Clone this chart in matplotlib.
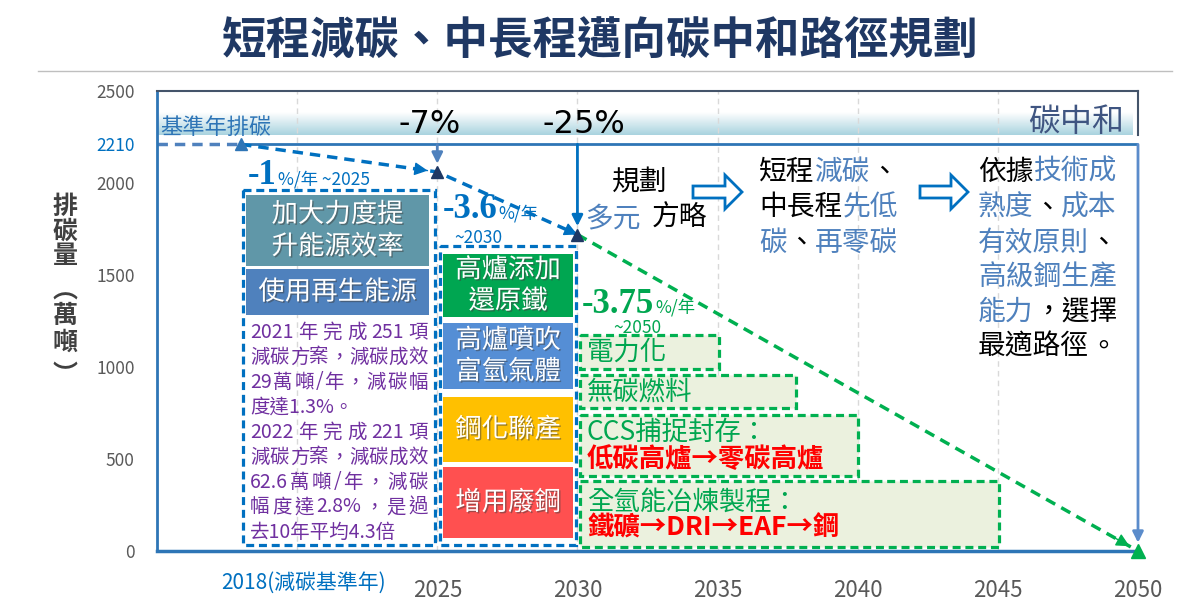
import numpy as np
import matplotlib.pyplot as plt
import matplotlib.patheffects as pe
from matplotlib.patches import Rectangle, Polygon
from matplotlib.colors import LinearSegmentedColormap

plt.rcParams['font.family'] = ['Noto Sans CJK TC', 'DejaVu Sans']

# 排碳路徑資料 (萬噸)
years = [2018, 2025, 2030, 2050]
emission = [2210, 2060, 1720, 0]
base = 2210
pct_labels = ['-7%', '-25%']
rate_labels = ['-1', '-3.6', '-3.75']
rate_until = ['~2025', '~2030', '~2050']

yticks = [0, 500, 1000, 1500, 2000, 2500]
xticks = [2025, 2030, 2035, 2040, 2045, 2050]
grid_years = [2020, 2025, 2030, 2035, 2040, 2045]

box1_items = ['加大力度提\n升能源效率', '使用再生能源']
box1_colors = ['#6097A8', '#4F81BD']
box2_items = ['高爐添加\n還原鐵', '高爐噴吹\n富氫氣體', '鋼化聯產', '增用廢鋼']
box2_colors = ['#00A651', '#558ED5', '#FFC000', '#FF5050']

purple_lines = [
    ['2021', '年', '完', '成', '251', '項'],
    list('減碳方案，減碳成效'),
    ['29', '萬', '噸', '/', '年', '，', '減', '碳', '幅'],
    ['度達1.3%。'],
    ['2022', '年', '完', '成', '221', '項'],
    list('減碳方案，減碳成效'),
    ['62.6', '萬', '噸', '/', '年', '，', '減', '碳'],
    ['幅', '度', '達', '2.8%', '，', '是', '過'],
    ['去10年平均4.3倍'],
]

BLUE = '#0070C0'
SBLUE = '#4F81BD'
GREEN = '#00B050'
TGREEN = '#00A650'

fig = plt.figure(figsize=(12, 6.13), dpi=100)

# ---- 主圖 ----
ax = fig.add_axes([157 / 1200, 62 / 613, 981 / 1200, 460 / 613], zorder=1)

# 橫幅漸層
cmap = LinearSegmentedColormap.from_list('band', ['#FFFFFF', '#A9D3DF'])
grad = np.linspace(0, 1, 60).reshape(-1, 1)
ax.imshow(grad, extent=[2015, 2049.8, 2262, 2385], aspect='auto', cmap=cmap, zorder=0)

ax.set_xlim(2015, 2050)
ax.set_ylim(0, 2500)

for g in grid_years:
    ax.axvline(g, color='#D9D9D9', lw=1, ls=(0, (4, 3)), zorder=0)

# 基準線
ax.plot([2015, years[0]], [base, base], ls=(0, (3, 2)), color=SBLUE, lw=2.5, zorder=2)
ax.plot([years[0], 2050], [base, base], color='#2E75B6', lw=2, zorder=2)

# 排碳路徑
ax.plot(years[:3], emission[:3], ls=(0, (3, 2)), color=BLUE, lw=2.5, zorder=3)
ax.plot(years[2:], emission[2:], ls=(0, (3, 2)), color=GREEN, lw=2.5, zorder=3)
for i, c in [(1, BLUE), (2, BLUE), (3, GREEN)]:
    x0, y0 = years[i - 1], emission[i - 1]
    x1, y1 = years[i], emission[i]
    ax.annotate('', xy=(x1, y1), xytext=(x1 - 0.05 * (x1 - x0), y1 - 0.05 * (y1 - y0)),
                arrowprops=dict(arrowstyle='-|>', color=c, lw=1, mutation_scale=20,
                                shrinkA=0, shrinkB=7),
                annotation_clip=False, zorder=4)

# 垂直箭頭
ax.annotate('', xy=(2025, emission[1]), xytext=(2025, base),
            arrowprops=dict(arrowstyle='-|>', color=SBLUE, lw=2, mutation_scale=16,
                            shrinkA=0, shrinkB=6), zorder=4)
ax.annotate('', xy=(2030, emission[2]), xytext=(2030, base),
            arrowprops=dict(arrowstyle='-|>', color=BLUE, lw=2, mutation_scale=16,
                            shrinkA=0, shrinkB=6), zorder=4)
ax.annotate('', xy=(2050, 0), xytext=(2050, base),
            arrowprops=dict(arrowstyle='-|>', color='#5B8CCB', lw=2, mutation_scale=16,
                            shrinkA=0, shrinkB=6), annotation_clip=False, zorder=4)

ax.plot(years[0], emission[0], '^', color='#2E75B6', ms=9, zorder=5)
ax.plot(years[1:3], emission[1:3], '^', color='#1F3864', ms=9, ls='none', zorder=5)
ax.plot(years[3], emission[3], '^', color=GREEN, ms=9.5, clip_on=False, zorder=5)

# 座標軸
for s in ['top', 'right']:
    ax.spines[s].set_color('#44546A')
    ax.spines[s].set_linewidth(1.5)
ax.spines['right'].set_bounds(2262, 2500)
ax.spines['left'].set_color('#2E75B6')
ax.spines['left'].set_linewidth(2)
ax.spines['bottom'].set_color('#2E75B6')
ax.spines['bottom'].set_linewidth(2.5)

ax.set_xticks(xticks)
ax.tick_params(axis='x', length=0, pad=20, labelsize=16, labelcolor='#595959')
ax.set_yticks(yticks + [base])
ax.tick_params(axis='y', length=0, pad=16, labelsize=12.5, labelcolor='#595959')
for lbl in ax.get_yticklabels():
    if lbl.get_text() == str(base):
        lbl.set_color(BLUE)

# ---- 覆蓋層 (像素座標) ----
ov = fig.add_axes([0, 0, 1, 1], zorder=2)
ov.set_xlim(0, 1200)
ov.set_ylim(613, 0)
ov.axis('off')
ov.patch.set_alpha(0)
renderer = fig.canvas.get_renderer()

ov.text(600, 42, '短程減碳、中長程邁向碳中和路徑規劃', ha='center', va='center',
        fontsize=32, fontweight='bold', color='#1F3864')
ov.plot([38, 1172], [71, 71], color='#BFBFBF', lw=1)

# 縱軸標題
for ch, yy in zip('排碳量︵萬噸︶', [207, 232, 256, 292, 316, 343, 375]):
    ov.text(65, yy, ch, ha='center', va='center', fontsize=18, fontweight='bold', color='#404040')

ov.text(304, 583, '2018(減碳基準年)', ha='center', va='center', fontsize=15, color=BLUE)

ov.text(160, 127, '基準年排碳', ha='left', va='center', fontsize=16, color='#2E75B6')
ov.text(1124, 122, '碳中和', ha='right', va='center', fontsize=23, color='#3F5581')

ov.text(398, 133, pct_labels[0], ha='left', va='baseline', fontsize=23, family='DejaVu Sans', color='black')
ov.text(542, 133, pct_labels[1], ha='left', va='baseline', fontsize=23, family='DejaVu Sans', color='black')

# 年減率標示
rate_pos = [(248, 184, 296, 180, BLUE), (443, 218, 478, 238, BLUE), (582, 313, 637, 328, TGREEN)]
for lab, until, (xl, yb, xt, yt, c) in zip(rate_labels, rate_until, rate_pos):
    num = ov.text(xl, yb, lab, ha='left', va='baseline', fontsize=25, fontweight='bold',
                  family='Liberation Serif', color=c)
    xu = xl + num.get_window_extent(renderer).width + 1
    if lab == '-1':
        ov.text(xu, yb, '%/年 ' + until, ha='left', va='baseline', fontsize=12.5, color=c)
    else:
        ov.text(xu, yb, '%/年', ha='left', va='baseline', fontsize=12.5, color=c)
        ov.text(xt, yt, until, ha='center', va='center', fontsize=12.5, color=c)

# 藍色虛線框
for (x0, y0, x1, y1) in [(243, 190, 435, 545), (440, 246, 576, 545)]:
    ov.add_patch(Rectangle((x0, y0), x1 - x0, y1 - y0, fill=False, ec=BLUE, lw=2.3,
                           ls=(0, (2.5, 1.5))))

shadow = [pe.withSimplePatchShadow(offset=(1, -1), shadow_rgbFace='#404040', alpha=0.5)]
box1_rects = [(246, 195, 429, 266), (246, 269, 429, 315)]
for txt, c, (x0, y0, x1, y1) in zip(box1_items, box1_colors, box1_rects):
    ov.add_patch(Rectangle((x0, y0), x1 - x0, y1 - y0, fc=c, ec='none'))
    ov.text((x0 + x1) / 2, (y0 + y1) / 2, txt, ha='center', va='center', fontsize=19,
            color='white', linespacing=1.25, path_effects=shadow)

box2_rects = [(443, 254, 573, 317), (443, 323, 573, 389), (443, 397, 573, 462), (443, 467, 573, 538)]
for txt, c, (x0, y0, x1, y1) in zip(box2_items, box2_colors, box2_rects):
    ov.add_patch(Rectangle((x0, y0), x1 - x0, y1 - y0, fc=c, ec='none'))
    ov.text((x0 + x1) / 2, (y0 + y1) / 2, txt, ha='center', va='center', fontsize=19,
            color='white', linespacing=1.2, path_effects=shadow)

# 紫色說明文字 (左右對齊)
for tokens, yy in zip(purple_lines, [332, 357, 382, 407, 432, 457, 482, 507, 532]):
    texts = [ov.text(0, yy, t, ha='left', va='center', fontsize=14, color='#7030A0') for t in tokens]
    if len(tokens) == 1:
        texts[0].set_x(250)
        continue
    widths = [t.get_window_extent(renderer).width for t in texts]
    gap = (428 - 250 - sum(widths)) / (len(tokens) - 1)
    xx = 250
    for t, w in zip(texts, widths):
        t.set_x(xx)
        xx += w + gap

# 綠色虛線框
green_rects = [(580, 335, 719, 369), (580, 375, 796, 408), (580, 415, 858, 476), (580, 481, 999, 547)]
for (x0, y0, x1, y1) in green_rects:
    ov.add_patch(Rectangle((x0, y0), x1 - x0, y1 - y0, fc='#EBF1DE', ec=GREEN, lw=2.3,
                           ls=(0, (2.5, 1.5))))
ov.text(587, 352, '電力化', ha='left', va='center', fontsize=19, color=TGREEN)
ov.text(587, 392, '無碳燃料', ha='left', va='center', fontsize=19, color=TGREEN)
ov.text(587, 432, 'CCS捕捉封存：', ha='left', va='center', fontsize=19, color=TGREEN)
ov.text(587, 460, '低碳高爐→零碳高爐', ha='left', va='center', fontsize=19, fontweight='bold', color='#FF0000')
ov.text(587, 502, '全氫能冶煉製程：', ha='left', va='center', fontsize=19, color=TGREEN)
ov.text(587, 528, '鐵礦→DRI→EAF→鋼', ha='left', va='center', fontsize=19, fontweight='bold', color='#FF0000')


def seg_line(x, y, parts, fs=20):
    off = 0
    for s, c in parts:
        ov.annotate(s, (x, y), xytext=(off, 0), textcoords='offset points', color=c,
                    fontsize=fs, va='center', ha='left')
        off += len(s) * fs


K = 'black'
seg_line(612, 183, [('規劃', K)])
seg_line(585, 218, [('多元', SBLUE)])
seg_line(652, 218, [('方略', K)])

right1 = [[('短程', K), ('減碳', SBLUE), ('、', K)],
          [('中長程', K), ('先低', SBLUE)],
          [('碳', SBLUE), ('、', K), ('再零碳', SBLUE)]]
for parts, yy in zip(right1, [172, 207, 243]):
    seg_line(759, yy, parts)

right2 = [[('依據', K), ('技術成', SBLUE)],
          [('熟度', SBLUE), ('、', K), ('成本', SBLUE)],
          [('有效原則', SBLUE), ('、', K)],
          [('高級鋼生產', SBLUE)],
          [('能力', SBLUE), ('，選擇', K)],
          [('最適路徑', K), ('。', K)]]
for parts, yy in zip(right2, [172, 208, 243, 278, 312, 347]):
    seg_line(978, yy, parts)


def hollow_arrow(x0, x1, yc, hh=17, sh=6, hl=17):
    pts = [(x0, yc - sh), (x1 - hl, yc - sh), (x1 - hl, yc - hh), (x1, yc),
           (x1 - hl, yc + hh), (x1 - hl, yc + sh), (x0, yc + sh)]
    ov.add_patch(Polygon(pts, closed=True, fc='white', ec=BLUE, lw=2, joinstyle='miter'))


hollow_arrow(693, 742, 192)
hollow_arrow(920, 968, 192)

fig.savefig('out.png', dpi=100)
